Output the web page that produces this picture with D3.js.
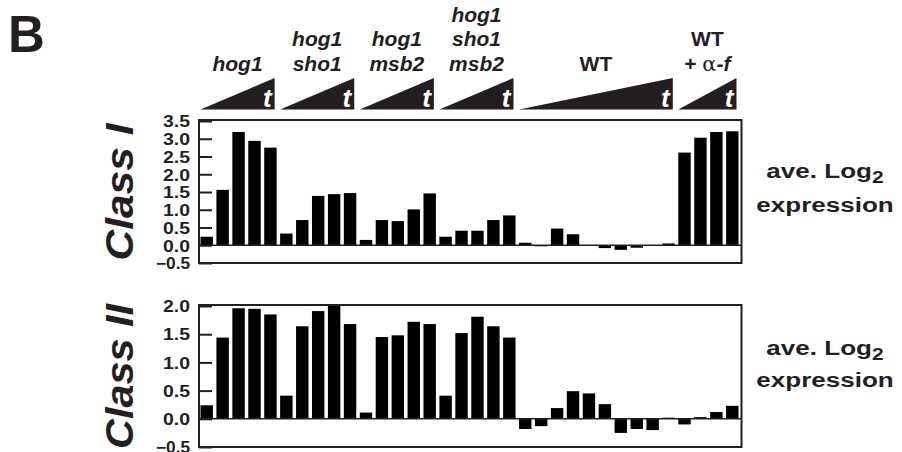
<!DOCTYPE html>
<html>
<head>
<meta charset="utf-8">
<script src="https://cdn.jsdelivr.net/npm/d3@7"></script>
<style>
  body { margin: 0; background: #fff; }
  text { font-family: "Liberation Sans", Arial, Helvetica, sans-serif; fill: #231f20; }
</style>
</head>
<body>
<svg width="902" height="452"></svg>
<script>
// group labels and how many time points each strain has
const groupLabels = [["hog1"], ["hog1", "sho1"], ["hog1", "msb2"], ["hog1", "sho1", "msb2"], ["WT"], ["WT", "+ α-f"]];
const groupItalic = [true, true, true, true, false, false];
const groupSizes = [5, 5, 5, 5, 10, 4];

// average log2 expression, one value per time point
const classI = [0.24, 1.56, 3.19, 2.94, 2.75,
                0.33, 0.71, 1.39, 1.44, 1.47,
                0.15, 0.71, 0.68, 1.01, 1.46,
                0.24, 0.41, 0.41, 0.71, 0.84,
                0.07, -0.03, 0.47, 0.31, -0.02, -0.08, -0.13, -0.07, -0.02, 0.05,
                2.61, 3.03, 3.19, 3.21];
const classII = [0.24, 1.44, 1.96, 1.95, 1.85,
                 0.41, 1.64, 1.91, 2.0, 1.68,
                 0.11, 1.45, 1.48, 1.72, 1.68,
                 0.41, 1.52, 1.81, 1.64, 1.44,
                 -0.18, -0.13, 0.19, 0.49, 0.45, 0.26, -0.25, -0.18, -0.20, 0.02,
                 -0.10, 0.03, 0.12, 0.23];

const ticksI = [-0.5, 0, 0.5, 1, 1.5, 2, 2.5, 3, 3.5];
const ticksII = [-0.5, 0, 0.5, 1, 1.5, 2];

const svg = d3.select("svg");
const ink = "#231f20";

const x = d3.scaleBand()
    .domain(d3.range(classI.length))
    .range([200.5, 738.5])
    .paddingInner(0.22)
    .paddingOuter(0);

// panel letter
svg.append("text").attr("x", 8).attr("y", 52)
    .style("font-size", "51px").style("font-weight", "bold").text("B");

// group headers with time triangles
let start = 0;
groupSizes.forEach(function(n, g) {
    const x0 = x(start);
    const x1 = x(start + n - 1) + x.bandwidth() - 2;
    const cx = (x0 + x1) / 2;
    const lines = groupLabels[g];
    lines.forEach(function(line, i) {
        const t = svg.append("text")
            .attr("x", cx)
            .attr("y", 70.7 - (lines.length - 1 - i) * 24.5)
            .attr("text-anchor", "middle")
            .style("font-size", "21px")
            .style("font-weight", "bold");
        if (line.startsWith("+")) {
            t.append("tspan").text("+ ");
            t.append("tspan").style("font-weight", "normal").style("font-family", "DejaVu Serif, serif").text("α");
            t.append("tspan").style("font-style", "italic").text("-f");
        } else {
            t.style("font-style", groupItalic[g] ? "italic" : "normal").text(line);
        }
    });
    svg.append("path")
        .attr("d", d3.line()([[x0, 109.5], [x1, 78], [x1, 109.5]]) + "Z")
        .attr("fill", ink);
    svg.append("text")
        .attr("x", x1 - 3).attr("y", 107)
        .attr("text-anchor", "end")
        .style("font-size", "26px").style("font-weight", "bold").style("font-style", "italic")
        .style("fill", "#fff")
        .text("t");
    start += n;
});

function drawPanel(values, ticks, top, bottom, title, titleLen, labelY) {
    const y = d3.scaleLinear()
        .domain([d3.min(ticks), d3.max(ticks)])
        .range([bottom, top]);
    const g = svg.append("g");

    g.selectAll("rect.bar").data(values).enter().append("rect")
        .attr("class", "bar")
        .attr("x", (d, i) => x(i))
        .attr("width", x.bandwidth())
        .attr("y", d => y(Math.max(0, d)))
        .attr("height", d => Math.abs(y(d) - y(0)))
        .attr("fill", "#000");

    // zero line
    g.append("line")
        .attr("x1", 199).attr("x2", 741)
        .attr("y1", y(0)).attr("y2", y(0))
        .attr("stroke", ink).attr("stroke-width", 1.5);

    const axis = d3.axisLeft(y)
        .tickValues(ticks)
        .tickSize(-13)
        .tickPadding(22)
        .tickFormat(d3.format(".1f"));
    const ax = g.append("g").attr("transform", "translate(199,0)").call(axis);
    ax.select(".domain").remove();
    ax.selectAll(".tick line").attr("stroke", ink).attr("stroke-width", 2);
    ax.selectAll(".tick text")
        .attr("x", -9)
        .attr("dy", "0.36em")
        .attr("textLength", d => d < 0 ? 34 : 27)
        .attr("lengthAdjust", "spacingAndGlyphs")
        .style("font-size", "16px").style("font-weight", "bold")
        .style("font-family", "'Liberation Sans', Arial, sans-serif")
        .attr("fill", ink);

    g.append("rect")
        .attr("x", 199).attr("y", top - 1)
        .attr("width", 542.5).attr("height", bottom - top + 1)
        .attr("fill", "none").attr("stroke", ink).attr("stroke-width", 2);

    const cy = (top + bottom) / 2;
    g.append("text")
        .attr("transform", "translate(133," + cy + ") rotate(-90)")
        .attr("text-anchor", "middle")
        .attr("textLength", titleLen)
        .attr("lengthAdjust", "spacingAndGlyphs")
        .style("font-size", "39px").style("font-weight", "bold").style("font-style", "italic")
        .text(title);

    // right-hand label, drawn a bit wider like the original lettering
    const lab = g.append("g").attr("transform", "translate(825,0) scale(1.24,1)")
        .append("text")
        .attr("text-anchor", "middle")
        .style("font-size", "21px").style("font-weight", "bold");
    const l1 = lab.append("tspan").attr("x", 0).attr("y", labelY[0]);
    l1.append("tspan").text("ave. Log");
    l1.append("tspan").attr("dy", 5).style("font-size", "17px").text("2");
    lab.append("tspan").attr("x", 0).attr("y", labelY[1]).text("expression");
}

drawPanel(classI, ticksI, 121, 263, "Class I", 137, [178, 212]);
drawPanel(classII, ticksII, 306, 447, "Class II", 145, [355, 387]);
</script>
</body>
</html>
